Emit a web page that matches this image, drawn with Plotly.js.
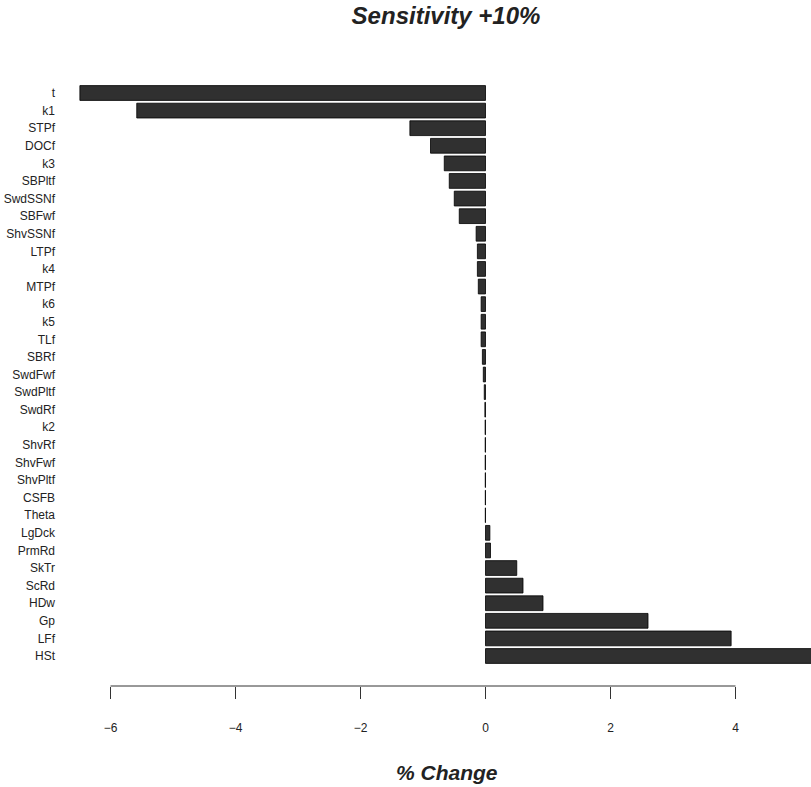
<!DOCTYPE html>
<html>
<head>
<meta charset="utf-8">
<script src="https://cdn.plot.ly/plotly-3.0.1.min.js"></script>
<style>html,body{margin:0;padding:0;background:#fff;overflow:hidden}</style>
</head>
<body>
<div id="chart" style="width:811px;height:787px"></div>
<script>
var categories = ["t","k1","STPf","DOCf","k3","SBPltf","SwdSSNf","SBFwf","ShvSSNf","LTPf","k4","MTPf","k6","k5","TLf","SBRf","SwdFwf","SwdPltf","SwdRf","k2","ShvRf","ShvFwf","ShvPltf","CSFB","Theta","LgDck","PrmRd","SkTr","ScRd","HDw","Gp","LFf","HSt"];
var pctChange = [-6.49,-5.58,-1.21,-0.88,-0.66,-0.58,-0.50,-0.42,-0.15,-0.13,-0.13,-0.115,-0.07,-0.07,-0.07,-0.05,-0.035,-0.02,-0.01,-0.006,-0.005,-0.005,-0.004,-0.003,-0.003,0.07,0.08,0.50,0.60,0.92,2.60,3.93,5.60];
var xTicks = [-6,-4,-2,0,2,4];
var xTickText = ["\u22126","\u22124","\u22122","0","2","4"];

var font = "Liberation Sans, Arial, Helvetica, sans-serif";
var n = categories.length;

var trace = {
  type: "bar",
  orientation: "h",
  x: pctChange,
  y: categories,
  marker: {color: "#303030", line: {color: "#000000", width: 0.8}},
  hoverinfo: "x+y"
};

var layout = {
  width: 811, height: 787,
  margin: {l: 66, r: 0, t: 40, b: 101},
  paper_bgcolor: "#ffffff", plot_bgcolor: "#ffffff",
  showlegend: false,
  bargap: 0.16,
  title: {
    text: "<b><i>Sensitivity +10%</i></b>",
    font: {family: font, size: 24, color: "#222222"},
    xref: "container", x: 446/811, xanchor: "center",
    yref: "container", y: 1 - 16/787, yanchor: "middle"
  },
  xaxis: {
    range: [-6.712, 5.208],
    tickvals: xTicks, ticktext: xTickText,
    ticks: "outside", ticklen: 12, tickwidth: 1, tickcolor: "#333333",
    ticklabelstandoff: 19,
    showline: false, showgrid: false, zeroline: false,
    tickfont: {family: font, size: 12, color: "#222222"},
    fixedrange: true
  },
  yaxis: {
    type: "category",
    categoryorder: "array", categoryarray: categories,
    range: [n - 1 + 1.705, -3.013],
    ticks: "", showline: false, showgrid: false, zeroline: false,
    ticklabelstandoff: 10,
    tickfont: {family: font, size: 12, color: "#222222"},
    fixedrange: true
  },
  shapes: [{
    type: "line", xref: "x", yref: "paper",
    x0: xTicks[0], x1: xTicks[xTicks.length - 1], y0: 0, y1: 0,
    line: {color: "#333333", width: 1}
  }],
  annotations: [{
    text: "<b><i>% Change</i></b>",
    xref: "paper", yref: "paper",
    x: (447 - 66) / 745, y: -(772 - 686) / 646,
    xanchor: "center", yanchor: "middle",
    showarrow: false,
    font: {family: font, size: 21, color: "#222222"}
  }]
};

Plotly.newPlot("chart", [trace], layout, {displayModeBar: false, staticPlot: true});
</script>
</body>
</html>
